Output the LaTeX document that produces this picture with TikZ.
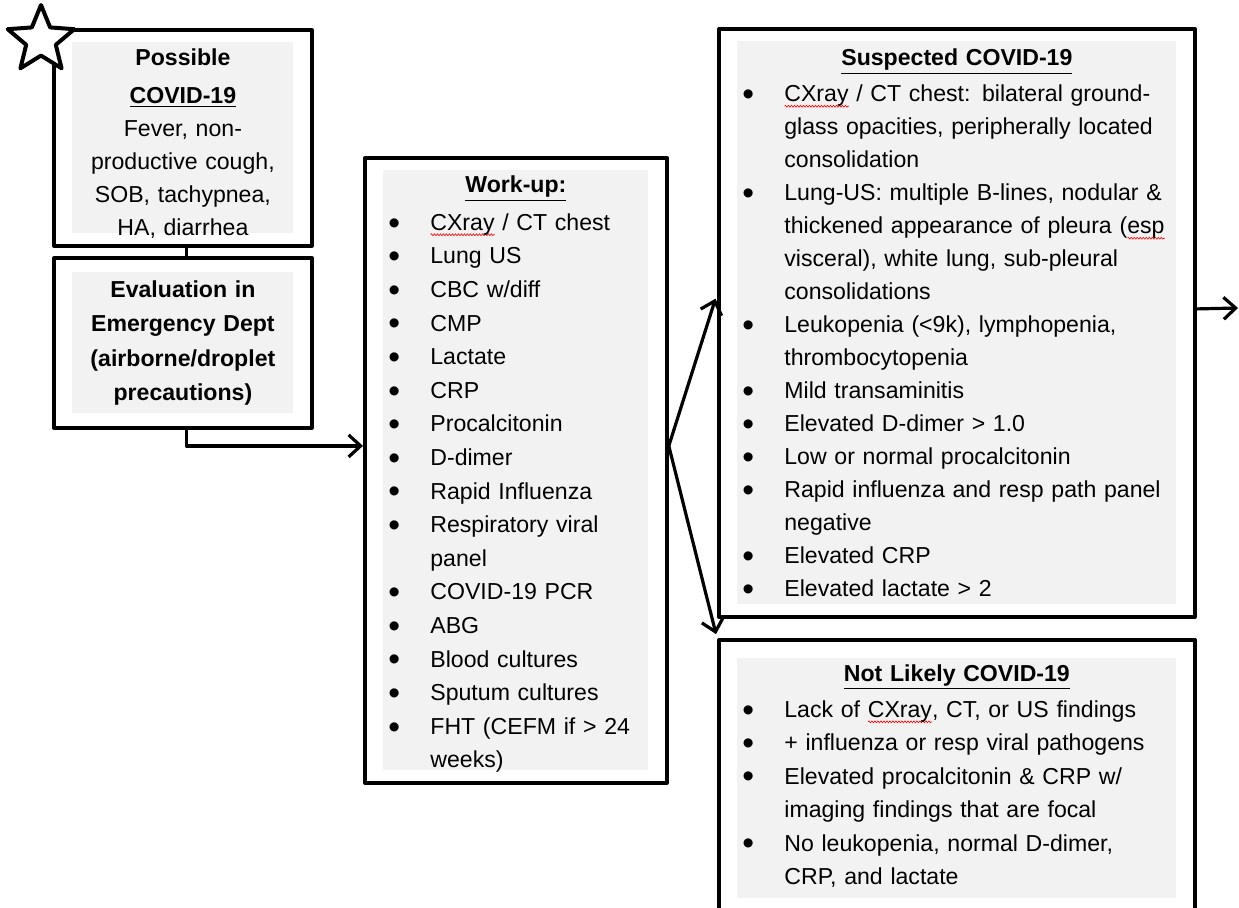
\documentclass[tikz,border=0pt]{standalone}
\usepackage{fontspec}
\setmainfont{Liberation Sans}
\usetikzlibrary{shapes.geometric,arrows.meta,fit,decorations.pathmorphing}
\definecolor{boxgray}{RGB}{242,242,242}
\setlength{\parindent}{0pt}
\newcommand{\bul}{\makebox[23.5pt][l]{\hspace{2.5pt}\raisebox{-0.16em}{\scalebox{1.45}{\textbullet}}}}
\newcommand{\ind}{\hspace*{23.5pt}}
\newsavebox{\spellbox}
\newcommand{\spellerr}[1]{\sbox{\spellbox}{#1}\rlap{\raisebox{-2.8pt}{\tikz\draw[red,line width=0.3pt,decorate,decoration={zigzag,amplitude=0.5pt,segment length=1.5pt}] (0pt,0pt) -- (\wd\spellbox,0pt);}}\usebox{\spellbox}}
\newcommand{\ttl}[2][0pt]{{\centering\textbf{\underline{#2}}\par}\vspace{#1}}
\begin{document}
\begin{tikzpicture}[x=0.5pt,y=-0.5pt,line join=round,>={Straight Barb[length=6pt,width=11pt]}]
\tikzset{every node/.style={font=\fontsize{11.55pt}{16.8pt}\selectfont},
  graybox/.style={fill=boxgray,inner sep=0pt,anchor=north west},
  txt/.style={inner sep=0pt},
  outerbox/.style={draw,line width=2pt,inner xsep=9pt,inner ysep=6pt},
  arr/.style={->,line width=1.6pt}}
\useasboundingbox (0,0) rectangle (1239,907);
% left column
\node[graybox,minimum width=110.5pt,minimum height=95.5pt] (possiblebg) at (72,42) {};
\node[txt,text width=110.5pt,align=center,font=\fontsize{11.55pt}{16.6pt}\selectfont] (possibletxt) at ([yshift=-3pt]possiblebg.center)
  {\textbf{Possible}\\[2pt] \textbf{\underline{COVID-19}}\\ Fever, non-\\ productive cough,\\ SOB, tachypnea,\\ HA, diarrhea};
\node[outerbox,fit=(possiblebg)] (possible) {};
\node[graybox,minimum width=110.5pt,minimum height=70.5pt] (evalbg) at (72,272) {};
\node[txt,text width=110.5pt,align=center,font=\fontsize{11.55pt}{17.2pt}\selectfont\bfseries] (evaltxt) at (evalbg.center)
  {Evaluation in\\ Emergency Dept\\ (airborne/droplet\\ precautions)};
\node[outerbox,fit=(evalbg),inner ysep=7pt] (eval) {};
% work-up
\node[graybox,minimum width=132.5pt,minimum height=300pt] (workupbg) at (383,170) {};
\node[txt,text width=132.5pt,align=left] (workuptxt) at ([yshift=-2pt]workupbg.center)
  {\ttl[2pt]{Work-up:}
   \bul \spellerr{CXray} / CT chest\\
   \bul Lung US\\
   \bul CBC w/diff\\
   \bul CMP\\
   \bul Lactate\\
   \bul CRP\\
   \bul Procalcitonin\\
   \bul D-dimer\\
   \bul Rapid Influenza\\
   \bul Respiratory viral\\
   \ind panel\\
   \bul COVID-19 PCR\\
   \bul ABG\\
   \bul Blood cultures\\
   \bul Sputum cultures\\
   \bul FHT (CEFM if > 24\\
   \ind weeks)};
\node[outerbox,fit=(workupbg)] (workup) {};
% results
\node[graybox,minimum width=219.5pt,minimum height=281.5pt] (suspectedbg) at (737,41) {};
\node[txt,text width=219.5pt,align=left,font=\fontsize{11.55pt}{16.5pt}\selectfont] (suspectedtxt) at ([yshift=-1pt]suspectedbg.center)
  {\ttl[1.5pt]{Suspected COVID-19}
   \bul \spellerr{CXray} / CT chest: bilateral ground-\\
   \ind glass opacities, peripherally located\\
   \ind consolidation\\
   \bul Lung-US: multiple B-lines, nodular \&\\
   \ind thickened appearance of pleura (\spellerr{esp}\\
   \ind visceral), white lung, sub-pleural\\
   \ind consolidations\\
   \bul Leukopenia (<9k), lymphopenia,\\
   \ind thrombocytopenia\\
   \bul Mild transaminitis\\
   \bul Elevated D-dimer > 1.0\\
   \bul Low or normal procalcitonin\\
   \bul Rapid influenza and resp path panel\\
   \ind negative\\
   \bul Elevated CRP\\
   \bul Elevated lactate > 2};
\node[outerbox,fit=(suspectedbg)] (suspected) {};
\node[graybox,minimum width=219.5pt,minimum height=120pt] (notlikelybg) at (737,658) {};
\node[txt,text width=219.5pt,align=left,font=\fontsize{11.55pt}{16.7pt}\selectfont] (notlikelytxt) at ([yshift=1.25pt]notlikelybg.center)
  {\ttl[1.5pt]{Not Likely COVID-19}
   \bul Lack of \spellerr{CXray}, CT, or US findings\\
   \bul + influenza or resp viral pathogens\\
   \bul Elevated procalcitonin \& CRP w/\\
   \ind imaging findings that are focal\\
   \bul No leukopenia, normal D-dimer,\\
   \ind CRP, and lactate};
\node[outerbox,fit=(notlikelybg),inner ysep=9pt] (notlikely) {};
\node[star,star points=5,star point ratio=2.25,draw,fill=white,line width=2pt,minimum size=35pt,inner sep=0pt] (mark) at (41,40) {};
\coordinate (fork) at ([yshift=12.25pt]workup.east);
\coordinate (out) at (1238,308);
\draw[line width=1.6pt] ([xshift=1.75pt]possible.south) -- ([xshift=1.75pt]eval.north);
\draw[arr] ([xshift=1.75pt]eval.south) |- ([yshift=12.25pt]workup.west);
\draw[arr,shorten >=2.5pt] (fork) -- ([yshift=14.5pt]suspected.west);
\draw[arr,shorten >=2pt] (fork) -- (notlikely.north west);
\draw[arr] ([yshift=7pt]suspected.east) -- (out);
\end{tikzpicture}
\end{document}
